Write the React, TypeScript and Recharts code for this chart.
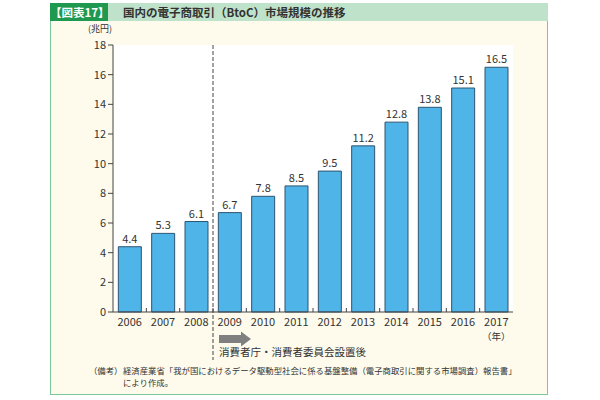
import React from 'react';
import {
  BarChart,
  Bar,
  XAxis,
  YAxis,
  CartesianGrid,
  LabelList,
  ReferenceLine,
} from 'recharts';

const years = ['2006', '2007', '2008', '2009', '2010', '2011', '2012', '2013', '2014', '2015', '2016', '2017'];
const marketSize = [4.4, 5.3, 6.1, 6.7, 7.8, 8.5, 9.5, 11.2, 12.8, 13.8, 15.1, 16.5];
const yTicks = [0, 2, 4, 6, 8, 10, 12, 14, 16, 18];

const FONT = '"Noto Sans CJK JP", "Noto Sans", sans-serif';
const TEXT = '#333';

const data = years.map((year, i) => ({ year, value: marketSize[i] }));

// dashed divider, pulled down past the axis to cover the annotation
function Divider(props: any) {
  const { x1, y1, x2, y2 } = props;
  const top = Math.min(y1, y2);
  const bottom = Math.max(y1, y2);
  return (
    <line x1={x1} y1={top} x2={x2} y2={bottom + 48} stroke="#444" strokeWidth={1} strokeDasharray="4 2" />
  );
}

// year label + small inward tick at the left edge of each band
function YearTick(props: any) {
  const { x, y, payload, index } = props;
  const edge = x - (payload.offset || 0);
  return (
    <g>
      {index > 0 && <line x1={edge} y1={y} x2={edge} y2={y - 4} stroke="#444" />}
      <text x={x} y={y + 14} textAnchor="middle" fontSize={11} fill={TEXT} fontFamily={FONT}>
        {payload.value}
      </text>
      {payload.value === '2017' && (
        <text x={x} y={y + 28} textAnchor="middle" fontSize={9.5} fill={TEXT} fontFamily={FONT}>
          （年）
        </text>
      )}
    </g>
  );
}

export default function App() {
  return (
    <div style={{ position: 'absolute', left: 0, top: 0, width: 600, height: 400, background: '#fff', fontFamily: FONT }}>
      {/* panel */}
      <div
        style={{
          position: 'absolute',
          left: 50,
          top: 3,
          width: 496,
          height: 390,
          background: '#fefbec',
          border: '1px solid #7cc79a',
        }}
      />
      <div style={{ position: 'absolute', left: 50, top: 3, width: 498, height: 18, background: '#bfe2ca' }} />
      <div
        style={{
          position: 'absolute',
          left: 50,
          top: 3,
          width: 58,
          height: 18,
          background: '#1f9950',
          color: '#fff',
          fontSize: 11.5,
          fontWeight: 'bold',
          lineHeight: '18px',
          textAlign: 'center',
        }}
      >
        【図表17】
      </div>
      <div
        style={{
          position: 'absolute',
          left: 123,
          top: 3,
          height: 18,
          lineHeight: '18px',
          fontSize: 11.5,
          fontWeight: 'bold',
          color: '#333',
          whiteSpace: 'nowrap',
        }}
      >
        国内の電子商取引（BtoC）市場規模の推移
      </div>

      <div style={{ position: 'absolute', left: 88, top: 23, fontSize: 9, lineHeight: '11px', color: TEXT }}>(兆円)</div>

      <div style={{ position: 'absolute', left: 0, top: 0 }}>
        <BarChart
          width={600}
          height={400}
          data={data}
          margin={{ top: 45, right: 87, bottom: 58, left: 73 }}
          barCategoryGap="16%"
        >
          <CartesianGrid fill="#fff" horizontal={false} vertical={false} />
          <XAxis
            dataKey="year"
            tick={<YearTick />}
            tickLine={false}
            tickSize={0}
            tickMargin={0}
            axisLine={{ stroke: '#444' }}
            height={30}
            interval={0}
          />
          <XAxis xAxisId="top" orientation="top" dataKey="year" tick={false} tickLine={false} axisLine={{ stroke: '#888' }} height={0} />
          <YAxis
            domain={[0, 18]}
            ticks={yTicks}
            interval={0}
            width={40}
            tick={{ fontSize: 11, fill: TEXT, fontFamily: FONT }}
            tickLine={{ stroke: '#444' }}
            tickSize={5}
            axisLine={{ stroke: '#444' }}
          />
          <YAxis yAxisId="right" orientation="right" tick={false} tickLine={false} axisLine={{ stroke: '#888' }} width={0} />
          <ReferenceLine x="2008" position="end" ifOverflow="visible" shape={<Divider />} />
          <Bar dataKey="value" fill="#4fb4e8" stroke="#2d5570" strokeWidth={1} isAnimationActive={false}>
            <LabelList dataKey="value" position="top" offset={4} fontSize={11} fill={TEXT} fontFamily={FONT} />
          </Bar>
        </BarChart>
      </div>

      {/* annotation under 2009- */}
      <svg style={{ position: 'absolute', left: 0, top: 0 }} width={600} height={400}>
        <polygon points="219,335 241,335 241,331.5 251,339 241,346.5 241,343 219,343" fill="#808080" />
      </svg>
      <div style={{ position: 'absolute', left: 219, top: 344, fontSize: 10.5, color: TEXT, whiteSpace: 'nowrap' }}>
        消費者庁・消費者委員会設置後
      </div>

      <div style={{ position: 'absolute', left: 89, top: 364, fontSize: 8.4, color: TEXT, lineHeight: '12px', whiteSpace: 'nowrap' }}>
        （備考）
      </div>
      <div style={{ position: 'absolute', left: 123, top: 364, fontSize: 8.4, color: TEXT, lineHeight: '12px', whiteSpace: 'nowrap' }}>
        経済産業省「我が国におけるデータ駆動型社会に係る基盤整備（電子商取引に関する市場調査）報告書」
        <br />
        により作成。
      </div>
    </div>
  );
}
